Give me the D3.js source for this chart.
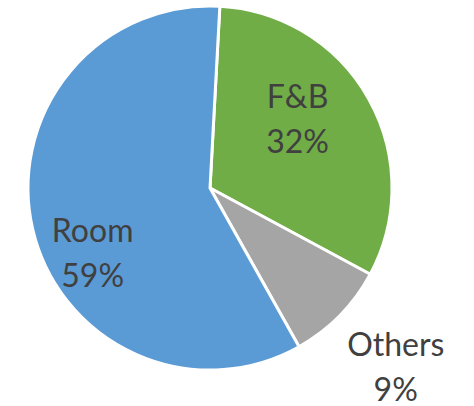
<!DOCTYPE html>
<html>
<head>
<meta charset="utf-8">
<script src="https://cdn.jsdelivr.net/npm/d3@7"></script>
<style>
  body { margin: 0; background: #fff; }
  text { font-family: Lato, "Open Sans", sans-serif; fill: #404040; }
</style>
</head>
<body>
<svg id="svg" width="474" height="406"></svg>
<script>
var categories = ["F&B", "Others", "Room"]
var values = [32, 9, 59]
var colors = ["#70AD47", "#A5A5A5", "#5B9BD5"]
// label layout: radius from centre and a small nudge
var labelRadius = [105, 266, 140]
var labelNudge = [[-4, -7], [-4, 4], [19, 44]]

var svg = d3.select("#svg"),
    cx = 210,
    cy = 188,
    radius = 182

var g = svg.append("g")
    .attr("transform", "translate(" + cx + "," + cy + ")")

var startRad = 3.1 * Math.PI / 180

var pie = d3.pie()
    .sort(null)
    .startAngle(startRad)
    .endAngle(startRad + 2 * Math.PI)
    .value(function (d) { return d.value })

var data = categories.map(function (c, i) {
    return { key: c, value: values[i], i: i }
})

var arcs = pie(data)

var arc = d3.arc().innerRadius(0).outerRadius(radius)

g.selectAll(".slice")
    .data(arcs)
    .enter().append("path")
    .attr("class", "slice")
    .attr("d", arc)
    .attr("fill", function (d) { return colors[d.data.i] })
    .attr("stroke", "#fff")
    .attr("stroke-width", 3)
    .attr("stroke-linejoin", "round")

var labels = g.selectAll(".label")
    .data(arcs)
    .enter().append("text")
    .attr("class", "label")
    .attr("text-anchor", "middle")
    .style("font-size", "32px")
    .each(function (d) {
        var i = d.data.i
        var r = labelRadius[i]
        var c = d3.arc().innerRadius(r).outerRadius(r).centroid(d)
        var x = c[0] + labelNudge[i][0]
        var y = c[1] + labelNudge[i][1]
        var t = d3.select(this)
        t.append("tspan").attr("x", x).attr("y", y - 22).text(d.data.key)
        t.append("tspan").attr("x", x).attr("y", y + 23).text(d.data.value + "%")
    })
</script>
</body>
</html>
